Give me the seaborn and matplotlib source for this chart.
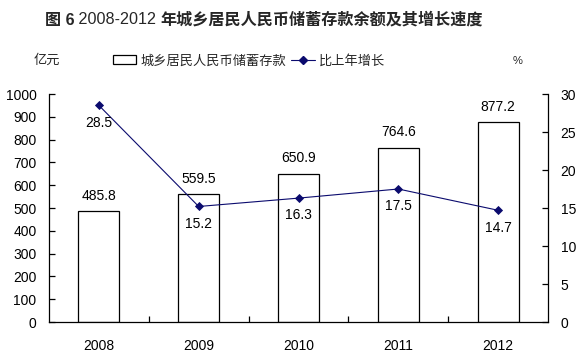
import matplotlib
matplotlib.use("Agg")
import matplotlib.pyplot as plt
import seaborn as sns
import pandas as pd
from matplotlib.patches import Patch
from matplotlib.lines import Line2D

years = ["2008", "2009", "2010", "2011", "2012"]
deposits = [485.8, 559.5, 650.9, 764.6, 877.2]
growth = [28.5, 15.2, 16.3, 17.5, 14.7]
left_ticks = [0, 100, 200, 300, 400, 500, 600, 700, 800, 900, 1000]
right_ticks = [0, 5, 10, 15, 20, 25, 30]
bar_name = "城乡居民人民币储蓄存款"
line_name = "比上年增长"

sns.set_theme(style="white")
plt.rcParams['font.family'] = ['Liberation Sans', 'Noto Sans CJK SC', 'DejaVu Sans']

navy = "#0b0b6e"
df = pd.DataFrame({"year": years, "deposit": deposits, "growth": growth})

fig = plt.figure(figsize=(5.79, 3.62), dpi=100)
ax = fig.add_axes([49/579, 1-322/362, (548-49)/579, (322-94)/362])
sns.barplot(data=df, x="year", y="deposit", ax=ax, color="white",
            edgecolor="black", linewidth=0.9, width=0.41, saturation=1)
ax.set_ylim(0, 1000)
ax.set_xlim(-0.5, len(years) - 0.5)
ax.set_yticks(left_ticks)
ax.set_xlabel("")
ax.set_ylabel("")

ax2 = ax.twinx()
sns.pointplot(data=df, x="year", y="growth", ax=ax2, color=navy,
              markers="D", linestyles="-", markersize=4.2, linewidth=0.8)
ax2.set_ylim(0, 30)
ax2.set_xlim(-0.5, len(years) - 0.5)
ax2.set_yticks(right_ticks)
ax2.set_ylabel("")
ax2.set_xlabel("")

for a in (ax, ax2):
    for s in a.spines.values():
        s.set_visible(False)
ax.spines['left'].set_visible(True)
ax.spines['bottom'].set_visible(True)
ax2.spines['right'].set_visible(True)
for sp in (ax.spines['left'], ax.spines['bottom'], ax2.spines['right']):
    sp.set_color("black")
    sp.set_linewidth(0.9)

ax.tick_params(axis='y', direction='in', length=4, width=0.9, pad=9,
               labelsize=10, colors='black', left=True)
ax2.tick_params(axis='y', direction='in', length=4, width=0.9, pad=9,
                labelsize=10, colors='black', right=True)
ax.tick_params(axis='x', length=0, pad=12, labelsize=10, colors='black')
ax.set_xticks([i + 0.5 for i in range(len(years) - 1)], minor=True)
ax.tick_params(axis='x', which='minor', direction='in', length=4, width=0.9,
               bottom=True, colors='black')

for i, v in enumerate(deposits):
    ax.annotate(f"{v:.1f}", (i, v), xytext=(0, 11), textcoords="offset points",
                ha="center", va="center", fontsize=10, color="black")
for i, v in enumerate(growth):
    ax2.annotate(f"{v:.1f}", (i, v), xytext=(0, -12.5), textcoords="offset points",
                 ha="center", va="center", fontsize=10, color="black")

# Title with mixed weights
fig.canvas.draw()
renderer = fig.canvas.get_renderer()
parts = [("图 6", "bold"), (" 2008-2012 ", "normal"),
         ("年城乡居民人民币储蓄存款余额及其增长速度", "bold")]
texts = []
for s, w in parts:
    t = fig.text(0, 1-20/362, s, fontsize=11.6, fontweight=w, va="center", ha="left")
    texts.append(t)
widths = [t.get_window_extent(renderer).width for t in texts]
total = sum(widths)
x0 = 264 - total / 2
for t, w in zip(texts, widths):
    t.set_x(x0 / 579)
    x0 += w

fig.text(47/579, 1-61/362, "亿元", fontsize=9.5, ha="center", va="center")
fig.text(518/579, 1-61/362, "%", fontsize=8, ha="center", va="center")

handles = [Patch(facecolor="white", edgecolor="black", linewidth=0.9),
           Line2D([0], [0], color=navy, marker="D", markersize=4, linewidth=0.8)]
fig.legend(handles, [bar_name, line_name], loc="center", ncol=2,
           bbox_to_anchor=(249/579, 1-61/362), frameon=False, fontsize=9.5,
           handlelength=1.8, handleheight=0.7, handletextpad=0.3, columnspacing=0.4)

fig.savefig("out.png", dpi=100)
